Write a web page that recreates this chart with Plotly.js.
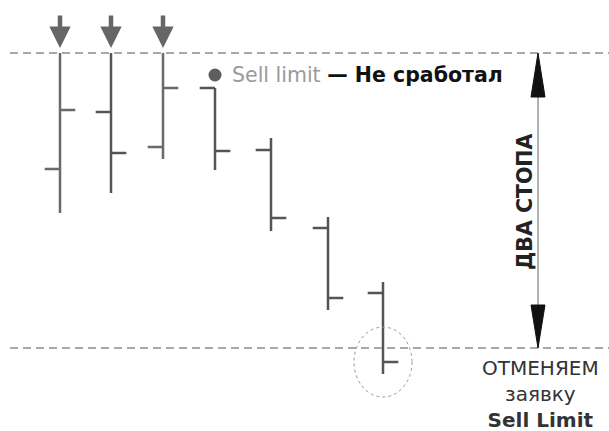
<!DOCTYPE html>
<html>
<head>
    <meta charset="utf-8">
    <script src="https://cdn.plot.ly/plotly-3.0.1.min.js"></script>
    <style>body { margin: 0; } #chart { width: 609px; height: 431px; }</style>
</head>
<body>
    <div id="chart"></div>
    <script>
        // бары (x - позиция свечи, цены в условных пунктах)
        var barX  = [60, 111, 163, 215, 271, 328, 383];
        var open  = [262, 319, 284, 343, 281, 203, 138];
        var high  = [378, 378, 378, 343, 293, 214, 149];
        var low   = [218, 238, 272, 261, 200, 121, 57];
        var close = [321, 278, 343, 280, 213, 133, 69];

        // уровни: стоп сверху и уровень отмены снизу
        var stopLevel = 378;
        var cancelLevel = 83;
        var arrowBars = [0, 1, 2];   // бары со стрелками сверху
        var rangeX = 538;            // позиция стрелки "два стопа"

        var data = [{
            type: 'ohlc',
            x: barX,
            open: open, high: high, low: low, close: close,
            tickwidth: 0.3,
            increasing: {line: {color: '#6a6a6a', width: 2.5}},
            decreasing: {line: {color: '#555555', width: 2.5}},
            hoverinfo: 'skip'
        }, {
            type: 'scatter',
            mode: 'markers',
            x: [215], y: [356],
            marker: {size: 13, color: '#5e5e5e'},
            hoverinfo: 'skip'
        }];

        var shapes = [];
        [stopLevel, cancelLevel].forEach(function (lvl) {
            shapes.push({
                type: 'line', x0: 10, x1: 609, y0: lvl, y1: lvl,
                line: {color: '#a8a8a8', width: 2, dash: '8px,5px'}
            });
        });
        // вертикальная стрелка "два стопа"
        shapes.push({
            type: 'line', x0: rangeX, x1: rangeX, y0: cancelLevel, y1: stopLevel,
            line: {color: '#999999', width: 1.5}
        });
        shapes.push({
            type: 'path',
            path: 'M' + rangeX + ',' + stopLevel + ' L' + (rangeX - 7) + ',' + (stopLevel - 44) +
                  ' L' + (rangeX + 7) + ',' + (stopLevel - 44) + ' Z',
            fillcolor: '#111111', line: {color: '#111111', width: 1}
        });
        shapes.push({
            type: 'path',
            path: 'M' + rangeX + ',' + cancelLevel + ' L' + (rangeX - 7) + ',' + (cancelLevel + 43) +
                  ' L' + (rangeX + 7) + ',' + (cancelLevel + 43) + ' Z',
            fillcolor: '#111111', line: {color: '#111111', width: 1}
        });
        // овал вокруг последнего бара
        var last = barX.length - 1;
        shapes.push({
            type: 'circle',
            x0: barX[last] - 29, x1: barX[last] + 29,
            y0: cancelLevel - 49, y1: cancelLevel + 21,
            line: {color: '#999999', width: 1, dash: 'dot'}
        });

        var annotations = arrowBars.map(function (i) {
            return {
                x: barX[i], y: stopLevel + 5, ax: 0, ay: -34,
                text: '', showarrow: true, arrowhead: 2, arrowsize: 0.95,
                arrowwidth: 4.5, arrowcolor: '#666666'
            };
        });
        annotations.push({
            x: 230, y: 356, xanchor: 'left', yanchor: 'middle', showarrow: false,
            text: '<span style="color:#9a9a9a">Sell limit</span> <b>— Не сработал</b>',
            font: {family: 'DejaVu Sans', size: 20.5, color: '#111111'}
        });
        annotations.push({
            x: rangeX - 13, y: 229, textangle: -90, showarrow: false,
            text: '<b>ДВА СТОПА</b>',
            font: {family: 'DejaVu Sans', size: 20.5, color: '#222222'}
        });
        annotations.push({
            x: 540, y: 5, yshift: -8, yanchor: 'bottom', showarrow: false,
            text: 'ОТМЕНЯЕМ<br>заявку<br><b>Sell Limit</b>',
            font: {family: 'DejaVu Sans', size: 20, color: '#333333'}
        });

        var layout = {
            width: 609,
            height: 431,
            margin: {l: 0, r: 0, t: 0, b: 0},
            paper_bgcolor: '#ffffff',
            plot_bgcolor: '#ffffff',
            showlegend: false,
            xaxis: {range: [0, 609], visible: false, fixedrange: true, rangeslider: {visible: false}},
            yaxis: {range: [0, 431], visible: false, fixedrange: true},
            shapes: shapes,
            annotations: annotations
        };

        Plotly.newPlot('chart', data, layout, {displayModeBar: false, staticPlot: true});
    </script>
</body>
</html>
